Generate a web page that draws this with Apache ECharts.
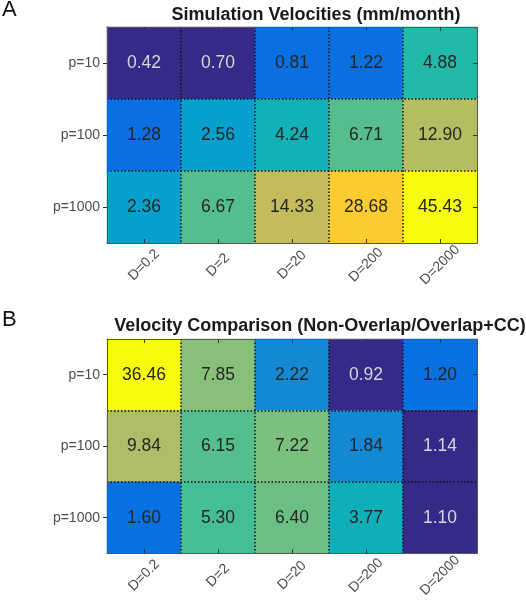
<!DOCTYPE html>
<html>
<head>
<meta charset="utf-8">
<script src="https://cdn.jsdelivr.net/npm/echarts@6/dist/echarts.min.js"></script>
<style>
html,body{margin:0;padding:0;background:#fff;}
#c{width:526px;height:600px;}
</style>
</head>
<body>
<div id="c"></div>
<script>
// ---- data ----
const dLabels = ['D=0.2', 'D=2', 'D=20', 'D=200', 'D=2000'];
const pLabels = ['p=10', 'p=100', 'p=1000'];
const simVelocities = [
  [0.42, 0.70, 0.81, 1.22, 4.88],
  [1.28, 2.56, 4.24, 6.71, 12.90],
  [2.36, 6.67, 14.33, 28.68, 45.43]
];
const velocityComparison = [
  [36.46, 7.85, 2.22, 0.92, 1.20],
  [9.84, 6.15, 7.22, 1.84, 1.14],
  [1.60, 5.30, 6.40, 3.77, 1.10]
];
const titleA = 'Simulation Velocities (mm/month)';
const titleB = 'Velocity Comparison (Non-Overlap/Overlap+CC)';

// ---- colour scales (piecewise) ----
const piecesA = [
  {lt: 0.75, color: '#352a87'},
  {gte: 0.75, lt: 2, color: '#0a6fe0'},
  {gte: 2, lt: 3, color: '#07a0cc'},
  {gte: 3, lt: 4.5, color: '#12b1b6'},
  {gte: 4.5, lt: 5.5, color: '#22b8aa'},
  {gte: 5.5, lt: 10, color: '#56bd8d'},
  {gte: 10, lt: 13.5, color: '#b5bd63'},
  {gte: 13.5, lt: 20, color: '#c3bb5c'},
  {gte: 20, lt: 40, color: '#fccb30'},
  {gte: 40, color: '#f9fb0e'}
];
const piecesB = [
  {lt: 1.17, color: '#352a87'},
  {gte: 1.17, lt: 1.7, color: '#0870e0'},
  {gte: 1.7, lt: 3, color: '#1389d4'},
  {gte: 3, lt: 4.5, color: '#0faeb9'},
  {gte: 4.5, lt: 5.7, color: '#45be97'},
  {gte: 5.7, lt: 6.3, color: '#55be8d'},
  {gte: 6.3, lt: 6.8, color: '#6bbf85'},
  {gte: 6.8, lt: 7.5, color: '#7bc07e'},
  {gte: 7.5, lt: 9, color: '#88c07a'},
  {gte: 9, lt: 20, color: '#aebd68'},
  {gte: 20, color: '#f9fb0e'}
];
const lightTextBelowA = 0.75;
const lightTextBelowB = 1.17;

function toCells(matrix) {
  const out = [];
  matrix.forEach((row, yi) => row.forEach((v, xi) => out.push([xi, yi, v])));
  return out;
}

const FONT = 'Liberation Sans, Arial, Helvetica, sans-serif';
const AX = '#555555';
const LBL = '#4d4d4d';

function grids(top) {
  return {left: 107, top: top, width: 370, height: 216, show: false};
}

function xAxes(gi) {
  return [
    {
      type: 'category', data: dLabels, gridIndex: gi, position: 'bottom', z: 3,
      axisLine: {show: true, lineStyle: {color: AX, width: 1}},
      axisTick: {show: true, inside: true, length: 4, alignWithLabel: true, lineStyle: {color: '#333'}},
      axisLabel: {rotate: 45, align: 'center', verticalAlign: 'middle', margin: 22,
                  color: LBL, fontSize: 14, fontFamily: FONT},
      splitLine: {show: true, showMinLine: false, showMaxLine: false,
                  lineStyle: {color: '#111', width: 1.5, type: [1.5, 2]}}
    },
    {
      type: 'category', data: dLabels, gridIndex: gi, position: 'top', z: 3,
      axisLine: {show: true, lineStyle: {color: AX, width: 1}},
      axisTick: {show: true, inside: true, length: 4, alignWithLabel: true, lineStyle: {color: '#333'}},
      axisLabel: {show: false},
      splitLine: {show: false}
    }
  ];
}

function yAxes(gi) {
  return [
    {
      type: 'category', data: pLabels, gridIndex: gi, inverse: true, position: 'left', z: 3,
      axisLine: {show: true, lineStyle: {color: AX, width: 1}},
      axisTick: {show: true, inside: false, length: 4, alignWithLabel: true, lineStyle: {color: '#333'}},
      axisLabel: {margin: 7, color: LBL, fontSize: 14, fontFamily: FONT},
      splitLine: {show: true, showMinLine: false, showMaxLine: false,
                  lineStyle: {color: '#111', width: 1.5, type: [1.5, 2]}}
    },
    {
      type: 'category', data: pLabels, gridIndex: gi, inverse: true, position: 'right', z: 3,
      axisLine: {show: true, lineStyle: {color: AX, width: 1}},
      axisTick: {show: true, inside: true, length: 4, alignWithLabel: true, lineStyle: {color: '#333'}},
      axisLabel: {show: false},
      splitLine: {show: false}
    }
  ];
}

function heat(xi, yi, matrix, lightBelow) {
  return {
    type: 'heatmap', xAxisIndex: xi, yAxisIndex: yi, z: 2,
    data: toCells(matrix),
    itemStyle: {borderWidth: 0},
    emphasis: {disabled: true},
    label: {
      show: true,
      fontFamily: FONT,
      formatter: p => {
        const v = p.value[2];
        return (v < lightBelow ? '{l|' : '{d|') + v.toFixed(2) + '}';
      },
      rich: {
        d: {color: '#262626', fontSize: 17.5, fontFamily: FONT},
        l: {color: '#d6d6d6', fontSize: 17.5, fontFamily: FONT}
      }
    }
  };
}

const chart = echarts.init(document.getElementById('c'), null, {renderer: 'canvas'});
chart.setOption({
  animation: false,
  backgroundColor: '#ffffff',
  grid: [grids(27), grids(339)],
  xAxis: [...xAxes(0), ...xAxes(1)],
  yAxis: [...yAxes(0), ...yAxes(1)],
  visualMap: [
    {type: 'piecewise', show: false, seriesIndex: 0, dimension: 2, pieces: piecesA},
    {type: 'piecewise', show: false, seriesIndex: 1, dimension: 2, pieces: piecesB}
  ],
  series: [
    heat(0, 0, simVelocities, lightTextBelowA),
    heat(2, 2, velocityComparison, lightTextBelowB)
  ],
  graphic: [
    {type: 'text', x: 2, y: 10, style: {text: 'A', font: '22px ' + FONT, fill: '#111', verticalAlign: 'middle'}},
    {type: 'text', x: 2, y: 320, style: {text: 'B', font: '22px ' + FONT, fill: '#111', verticalAlign: 'middle'}},
    {type: 'text', x: 316, y: 15.5, style: {text: titleA, font: 'bold 18px ' + FONT, fill: '#1a1a1a', align: 'center', verticalAlign: 'middle'}},
    {type: 'text', x: 320, y: 326, style: {text: titleB, font: 'bold 18px ' + FONT, fill: '#1a1a1a', align: 'center', verticalAlign: 'middle'}}
  ]
});
</script>
</body>
</html>
